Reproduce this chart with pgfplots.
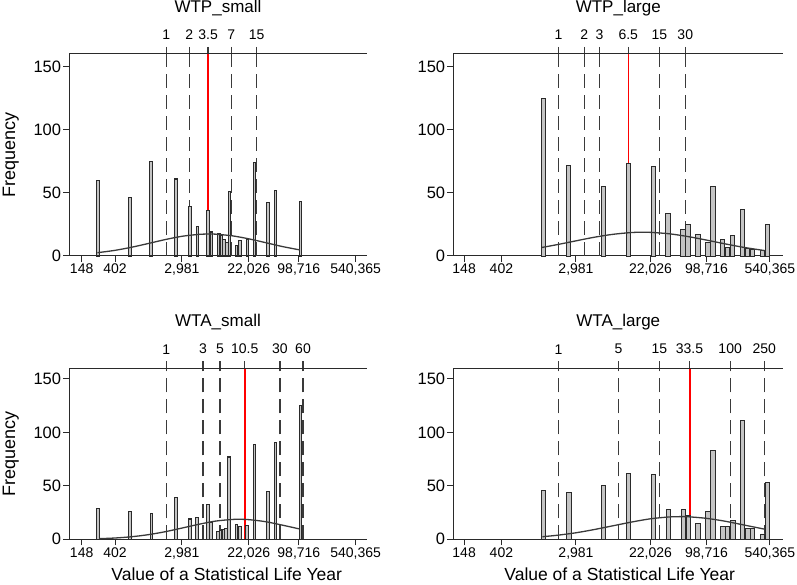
\documentclass[border=0pt]{standalone}
\usepackage{fontspec}
\setmainfont{Liberation Sans}
\usepackage{pgfplots}
\pgfplotsset{compat=1.18}
\definecolor{barfill}{HTML}{C4C4C4}
\definecolor{dk}{HTML}{2A2A2A}
\definecolor{dsh}{HTML}{3A3A3A}
\definecolor{crv}{HTML}{3A3A3A}
\definecolor{medred}{HTML}{FF0000}
\pgfplotsset{
 panel/.style={scale only axis, clip=false,
   axis x line*=bottom, axis y line*=left,
   axis line style={-, draw=dk, line width=1pt},
   ymin=0, ymax=160, ytick={0,50,100,150}, yticklabels={0,50,100,150},
   xtick={5,6,8,10,11.5,13.2},
   xticklabels={148,402,{2,981},{22,026},{98,716},{540,365}},
   xtick pos=left, ytick pos=left, xticklabel pos=left, yticklabel pos=left,
   tick align=outside, major tick length=6pt,
   tick style={draw=dk, line width=1pt},
   yticklabel style={font=\fontsize{16.5}{17}\selectfont, inner sep=2pt},
   xticklabel style={font=\fontsize{14}{14}\selectfont, inner sep=2pt},
 },
 topax/.style={scale only axis, clip=false,
   axis x line*=top, axis y line=none,
   axis line style={-, draw=dk, line width=1pt},
   ymin=0, ymax=160, ytick=\empty,
   xtick pos=right, xticklabel pos=right,
   tick align=outside, major tick length=7pt,
   tick style={draw=dsh, line width=1.3pt},
   xticklabel style={font=\fontsize{14}{14}\selectfont, inner sep=2pt, yshift=5pt},
 },
 dline/.style={no marks, draw=dsh, line width=1.3pt, dash pattern=on 14pt off 7pt},
 rline/.style={no marks, color=medred, draw=medred, line width=1.5pt},
 bars/.style={ybar, bar shift=0pt, fill=barfill, draw=dk, line width=0.9pt},
 ncurve/.style={smooth, no marks, draw=crv, line width=1.3pt},
}
\begin{document}
\begin{tikzpicture}
\useasboundingbox (0,0) rectangle (797pt,585pt);
% ---------------- WTP_small
\begin{axis}[panel, at={(69.3pt,329pt)}, anchor=south west, width=297.4pt, height=202pt, xmin=4.63, xmax=13.53]
\addplot[dline] coordinates {(7.53,0) (7.53,160)};
\addplot[dline] coordinates {(8.223,0) (8.223,160)};
\addplot[dline] coordinates {(9.476,0) (9.476,160)};
\addplot[dline] coordinates {(10.238,0) (10.238,160)};
\addplot[rline] coordinates {(8.783,0) (8.783,160)};
\addplot[bars, bar width=0.08, line width=1.05pt] coordinates {(5.49,60) (6.44,46) (7.08,75) (7.83,61) (8.25,39) (8.47,23) (8.78,36) (8.88,19) (9.10,18) (9.18,16) (9.26,13) (9.34,11) (9.42,51) (9.63,8) (9.73,12) (9.96,13) (10.17,74) (10.58,42) (10.80,52) (11.55,43)};
\addplot[ncurve] coordinates {(5.47,2.6) (6.0,4.49) (6.5,6.97) (7.0,9.93) (7.5,13.0) (8.0,15.6) (8.5,17.1) (8.8,17.4) (9.0,17.3) (9.5,16.0) (10.0,13.6) (10.5,10.6) (11.0,7.53) (11.53,4.8)};
\end{axis}
\begin{axis}[topax, at={(69.3pt,329pt)}, anchor=south west, width=297.4pt, height=202pt, xmin=4.63, xmax=13.53,
  xtick={7.53,8.223,8.783,9.476,10.238}, xticklabels={1,2,3.5,7,15}]
\end{axis}
% ---------------- WTP_large
\begin{axis}[panel, at={(453.3pt,329pt)}, anchor=south west, width=330pt, height=202pt, xmin=4.71, xmax=13.56]
\addplot[dline] coordinates {(7.53,0) (7.53,160)};
\addplot[dline] coordinates {(8.223,0) (8.223,160)};
\addplot[dline] coordinates {(8.629,0) (8.629,160)};
\addplot[dline] coordinates {(10.238,0) (10.238,160)};
\addplot[dline] coordinates {(10.931,0) (10.931,160)};
\addplot[rline] coordinates {(9.402,0) (9.402,160)};
\addplot[bars, bar width=0.115] coordinates {(7.13,125) (7.80,72) (8.73,55) (9.40,73) (10.08,71) (10.47,34) (10.87,21) (11.00,25) (11.27,17) (11.54,11) (11.67,55) (11.93,13) (12.07,7) (12.20,16) (12.47,37) (12.60,6) (12.73,5) (13.00,4) (13.14,25)};
\addplot[ncurve] coordinates {(7.09,6.78) (7.5,9.02) (8.0,12.0) (8.5,14.9) (9.0,17.2) (9.5,18.6) (9.8,18.8) (10.0,18.7) (10.5,17.6) (11.0,15.4) (11.5,12.6) (12.0,9.6) (12.5,6.83) (13.06,4.3)};
\end{axis}
\begin{axis}[topax, at={(453.3pt,329pt)}, anchor=south west, width=330pt, height=202pt, xmin=4.71, xmax=13.56,
  xtick={7.53,8.223,8.629,9.402,10.238,10.931}, xticklabels={1,2,3,6.5,15,30}]
\end{axis}
% ---------------- WTA_small
\begin{axis}[panel, at={(69.3pt,45.7pt)}, anchor=south west, width=297.4pt, height=171pt, xmin=4.63, xmax=13.53]
\addplot[dline] coordinates {(7.53,0) (7.53,160)};
\addplot[dline] coordinates {(8.629,0) (8.629,160)};
\addplot[dline] coordinates {(9.139,0) (9.139,160)};
\addplot[dline] coordinates {(10.931,0) (10.931,160)};
\addplot[dline] coordinates {(11.624,0) (11.624,160)};
\addplot[rline] coordinates {(9.881,0) (9.881,160)};
\addplot[bars, bar width=0.08, line width=1.05pt] coordinates {(5.49,29) (6.45,26) (7.09,24) (7.83,39) (8.25,19) (8.46,20) (8.78,33) (8.87,16) (9.08,7) (9.16,8) (9.24,9) (9.32,10) (9.41,77) (9.63,14) (9.73,12) (9.95,13) (10.17,89) (10.58,45) (10.80,91) (11.55,125)};
\addplot[ncurve] coordinates {(5.53,0.6) (6.0,1.21) (6.5,2.41) (7.0,4.35) (7.5,7.1) (8.0,10.5) (8.5,14.0) (9.0,17.0) (9.5,18.55) (9.7,18.7) (10.0,18.4) (10.5,16.5) (11.0,13.3) (11.5,9.8)};
\end{axis}
\begin{axis}[topax, at={(69.3pt,45.7pt)}, anchor=south west, width=297.4pt, height=171pt, xmin=4.63, xmax=13.53,
  xtick={7.53,8.629,9.139,9.881,10.931,11.624}, xticklabels={1,3,5,10.5,30,60}]
\end{axis}
% ---------------- WTA_large
\begin{axis}[panel, at={(453.3pt,45.7pt)}, anchor=south west, width=330pt, height=171pt, xmin=4.71, xmax=13.56]
\addplot[dline] coordinates {(7.53,0) (7.53,160)};
\addplot[dline] coordinates {(9.139,0) (9.139,160)};
\addplot[dline] coordinates {(10.238,0) (10.238,160)};
\addplot[dline] coordinates {(12.135,0) (12.135,160)};
\addplot[dline] coordinates {(13.051,0) (13.051,160)};
\addplot[rline, line width=2.2pt] coordinates {(11.05,0) (11.05,160)};
\addplot[bars, bar width=0.115] coordinates {(7.13,46) (7.81,44) (8.73,50) (9.41,62) (10.08,61) (10.48,28) (10.88,28) (11.01,22) (11.27,15) (11.54,26) (11.67,83) (11.94,12) (12.07,12) (12.21,18) (12.47,111) (12.61,10) (12.74,10) (13.01,5) (13.14,53)};
\addplot[ncurve] coordinates {(7.1,2.4) (7.5,3.8) (8.0,6.1) (8.5,9.2) (9.0,12.7) (9.5,16.2) (10.0,19.2) (10.5,20.9) (10.8,21.2) (11.0,21.1) (11.5,19.6) (12.0,16.9) (12.5,13.4) (13.07,9.4)};
\end{axis}
\begin{axis}[topax, at={(453.3pt,45.7pt)}, anchor=south west, width=330pt, height=171pt, xmin=4.71, xmax=13.56,
  xtick={7.53,9.139,10.238,11.042,12.135,13.051}, xticklabels={1,5,15,33.5,100,250}]
\end{axis}
% ---------------- titles and labels
\begin{scope}[every node/.style={font=\fontsize{17}{17}\selectfont, inner sep=0pt}]
\node[anchor=base] at (218pt,572.3pt) {WTP\_small};
\node[anchor=base] at (618.3pt,572.3pt) {WTP\_large};
\node[anchor=base] at (218pt,258.3pt) {WTA\_small};
\node[anchor=base] at (618.3pt,258.3pt) {WTA\_large};
\end{scope}
\begin{scope}[every node/.style={font=\fontsize{18}{18}\selectfont, inner sep=0pt}]
\node[anchor=base, rotate=90] at (15pt,430pt) {Frequency};
\node[anchor=base, rotate=90] at (15pt,131.2pt) {Frequency};
\end{scope}
\begin{scope}[every node/.style={font=\fontsize{17.5}{18}\selectfont, inner sep=0pt}]
\node[anchor=base] at (226.7pt,4.3pt) {Value of a Statistical Life Year};
\node[anchor=base] at (619.7pt,4.3pt) {Value of a Statistical Life Year};
\end{scope}
\end{tikzpicture}
\end{document}
